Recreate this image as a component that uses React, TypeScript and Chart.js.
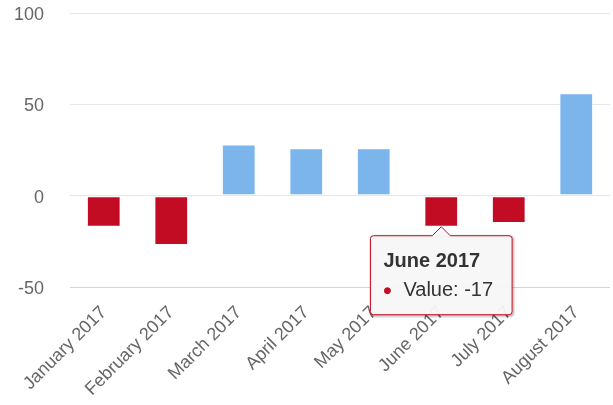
import React, { useEffect, useRef } from "react";
import { Chart, registerables } from "chart.js";

Chart.register(...registerables);

const categories = [
  "January 2017",
  "February 2017",
  "March 2017",
  "April 2017",
  "May 2017",
  "June 2017",
  "July 2017",
  "August 2017",
];
const values = [-17, -27, 28, 26, 26, -17, -15, 56];
const yMin = -50;
const yMax = 100;
const yStep = 50;
const activeIndex = 5;

const positiveColor = "#7cb5ec";
const negativeColor = "#c10c23";
const fontFamily = "'Liberation Sans', Arial, sans-serif";

const tooltipShadow = {
  id: "tooltipShadow",
  beforeTooltipDraw(chart: any, args: any) {
    const t = args.tooltip;
    if (!t || !t.opacity) return;
    const ctx = chart.ctx;
    ctx.save();
    for (let i = 1; i <= 3; i++) {
      ctx.strokeStyle = `rgba(0,0,0,${0.05 * i})`;
      ctx.lineWidth = 7 - 2 * i;
      ctx.beginPath();
      ctx.roundRect(t.x + 1, t.y + 1, t.width, t.height, 3);
      ctx.stroke();
    }
    ctx.restore();
  },
};

export default function App() {
  const canvasRef = useRef<HTMLCanvasElement | null>(null);

  useEffect(() => {
    const canvas = canvasRef.current;
    if (!canvas) return;
    const colorFor = (v: number) => (v < 0 ? negativeColor : positiveColor);

    const chart = new Chart(canvas, {
      type: "bar",
      plugins: [tooltipShadow],
      data: {
        labels: categories,
        datasets: [
          {
            label: "Value",
            data: values,
            backgroundColor: values.map(colorFor),
            borderColor: "rgba(255,255,255,0.45)",
            borderWidth: 1,
            borderSkipped: false,
            categoryPercentage: 1,
            barPercentage: 0.5,
          },
        ],
      },
      options: {
        animation: false,
        responsive: true,
        maintainAspectRatio: false,
        events: [],
        layout: { padding: { top: 13, right: 3, left: 0, bottom: 0 } },
        plugins: {
          legend: { display: false },
          tooltip: {
            enabled: true,
            backgroundColor: "rgba(247,247,247,0.95)",
            borderColor: negativeColor,
            borderWidth: 1,
            cornerRadius: 3,
            caretSize: 9,
            caretPadding: 0,
            xAlign: "center",
            yAlign: "top",
            titleColor: "#333333",
            bodyColor: "#333333",
            titleFont: { family: fontFamily, size: 20, weight: "bold" },
            bodyFont: { family: fontFamily, size: 20 },
            titleMarginBottom: 5,
            padding: { top: 14, bottom: 12, left: 13, right: 19 },
            displayColors: true,
            usePointStyle: true,
            boxWidth: 8,
            boxHeight: 6,
            boxPadding: 10,
            callbacks: {
              title: (items: any[]) => categories[items[0].dataIndex],
              label: (item: any) => `Value: ${item.raw}`,
              labelColor: (item: any) => ({
                borderColor: colorFor(item.raw),
                backgroundColor: colorFor(item.raw),
              }),
              labelPointStyle: () => ({ pointStyle: "circle", rotation: 0 }),
            } as any,
          },
        },
        scales: {
          x: {
            grid: { display: false, drawTicks: false },
            border: { display: false },
            ticks: {
              color: "#666666",
              font: { family: fontFamily, size: 18 },
              minRotation: 45,
              maxRotation: 45,
              autoSkip: false,
              padding: 15,
            },
            afterFit: (scale: any) => {
              scale.height = 118;
              scale.paddingLeft = 0;
              scale.paddingRight = 0;
            },
          },
          y: {
            min: yMin,
            max: yMax,
            grid: {
              drawTicks: false,
              lineWidth: 1,
              color: (ctx: any) => (ctx.tick && ctx.tick.value === yMin ? "#ccd6eb" : "#e6e6e6"),
            },
            border: { display: false },
            ticks: {
              stepSize: yStep,
              color: "#666666",
              font: { family: fontFamily, size: 18 },
              padding: 26,
              labelOffset: 2,
            },
            afterFit: (scale: any) => {
              scale.width = 70;
              scale.paddingTop = 0;
              scale.paddingBottom = 0;
            },
          },
        },
      },
    } as any);

    chart.tooltip?.setActiveElements([{ datasetIndex: 0, index: activeIndex }], { x: 0, y: 0 });
    chart.update();

    return () => {
      chart.destroy();
    };
  }, []);

  return (
    <div style={{ position: "absolute", left: 0, top: 0, width: 613, height: 405, background: "#ffffff" }}>
      <canvas ref={canvasRef} />
    </div>
  );
}
